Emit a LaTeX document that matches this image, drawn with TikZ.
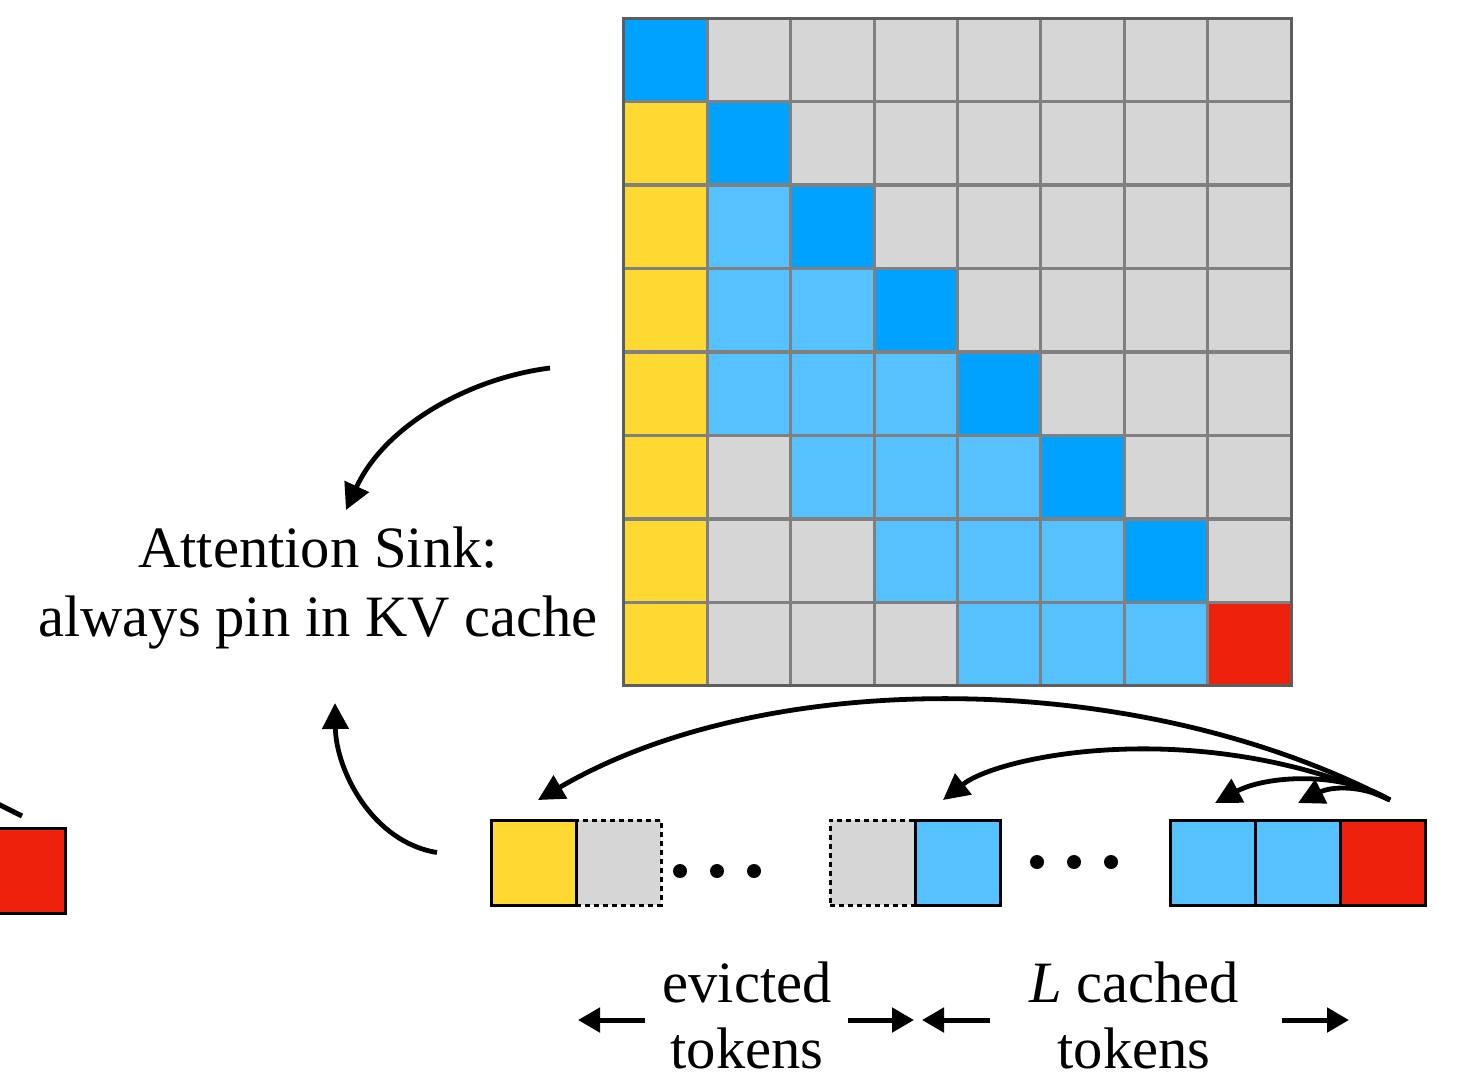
\documentclass[tikz,border=0pt]{standalone}
\usepackage{fontspec}
\setmainfont{Liberation Serif}
\usetikzlibrary{arrows.meta,calc}

% cell colours
\definecolor{cD}{HTML}{00A2FF}   % current token attending to itself
\definecolor{cL}{HTML}{56C1FF}   % window tokens
\definecolor{cY}{HTML}{FED932}   % attention sink
\definecolor{cG}{HTML}{D6D6D6}   % masked / evicted
\definecolor{cR}{HTML}{EE220C}   % newest token
\definecolor{gridG}{HTML}{808080}
\definecolor{edgeG}{HTML}{5E5E5E}

\tikzset{
  cell/.style={rectangle, draw=gridG, line width=1.5pt, minimum size=41.7pt,
    inner sep=0pt, outer sep=0pt},
  tok/.style={rectangle, draw=black, line width=1.5pt, minimum size=42.5pt,
    inner sep=0pt, outer sep=0pt},
  evtok/.style={tok, fill=cG, dash pattern=on 2.5pt off 2pt},
  bigarrow/.style={line width=2.4pt, -{Triangle[length=13pt,width=13pt]}},
  spanarrow/.style={line width=2.5pt, -{Triangle[length=11pt,width=12pt]}},
  lbl/.style={font=\fontsize{29.3}{34.5}\selectfont, inner sep=0pt, anchor=base},
  dot/.style={circle, fill=black, minimum size=7pt, inner sep=0pt}
}

\begin{document}
\begin{tikzpicture}[x=0.5pt, y=-0.5pt]
\useasboundingbox (0,0) rectangle (1460,1078);
\clip (0,0) rectangle (1460,1078);

% attention matrix, one row per entry
\foreach \line [count=\r from 0] in {
  {D,G,G,G,G,G,G,G},
  {Y,D,G,G,G,G,G,G},
  {Y,L,D,G,G,G,G,G},
  {Y,L,L,D,G,G,G,G},
  {Y,L,L,L,D,G,G,G},
  {Y,G,L,L,L,D,G,G},
  {Y,G,G,L,L,L,D,G},
  {Y,G,G,G,L,L,L,R}} {
  \foreach \c [count=\j from 0] in \line {
    \node[cell, fill=c\c] (m-\r-\j) at ({624+83.375*(\j+0.5)},{18+83.5*(\r+0.5)}) {};
  }
}
\draw[edgeG, line width=1.5pt] (m-0-0.north west) rectangle (m-7-7.south east);

% label for the sink column
\node[lbl] (sink1) at (318,567) {Attention Sink:};
\node[lbl] (sink2) at (318,636) {always pin in KV cache};

% token sequence
\node[tok, fill=cR] (prevR) at (22.5,870.5) {};
\node[tok, fill=cY] (t1) at (533.5,862.5) {};
\node[evtok] (t2) at (618.5,862.5) {};
\node[evtok] (t3) at (872.5,862.5) {};
\node[tok, fill=cL] (t4) at (957.5,862.5) {};
\node[tok, fill=cL] (t5) at (1212.5,862.5) {};
\node[tok, fill=cL] (t6) at (1297.5,862.5) {};
\node[tok, fill=cR] (t7) at (1382.5,862.5) {};
% redraw shared solid edges over the dashed ones
\draw[line width=1.5pt] (t1.north east) -- (t1.south east);
\draw[line width=1.5pt] (t4.north west) -- (t4.south west);

\foreach \x [count=\k] in {680,717,754} \node[dot] (da\k) at (\x,871) {};
\foreach \x [count=\k] in {1037,1074,1111} \node[dot] (db\k) at (\x,862) {};

% end of a connector from the previous step
\coordinate (prevFrom) at (-40,785);
\coordinate (prevTo) at (22,816);
\draw[line width=2.5pt] (prevFrom) -- (prevTo);

% arrows to the sink label
\coordinate (mFrom) at (550,368);
\coordinate (sinkTop) at (346,510);
\draw[bigarrow] (mFrom) .. controls (470,378) and (385,425) .. (sinkTop);
\coordinate (tFrom) at ($(t1.west)+(-54,-10)$);
\coordinate (sinkBot) at (335,703);
\draw[bigarrow] (tFrom) .. controls (372,842) and (336,770) .. (sinkBot);

% attention from the newest token to the cached ones
\coordinate (src) at ($(t7.north)+(7.5,-20)$);
\coordinate (toSink) at ($(t1.north)+(4.5,-20)$);
\coordinate (toWin) at ($(t4.north)+(-14.5,-20)$);
\coordinate (toT5) at ($(t5.north)+(2.5,-17)$);
\coordinate (toT6) at ($(t6.north)+(0.5,-17)$);
\draw[bigarrow] (src) .. controls (1135,667) and (765,667) .. (toSink);
\draw[bigarrow] (src) .. controls (1200,715) and (1000,755) .. (toWin);
\draw[bigarrow] (src) .. controls (1340,770) and (1265,776) .. (toT5);
\draw[bigarrow] (src) .. controls (1360,784) and (1330,787) .. (toT6);

% span labels
\node[lbl] (ev1) at (747,1002) {evicted};
\node[lbl] (ev2) at (747,1068) {tokens};
\node[lbl] (lc1) at (1134,1002) {\textit{L} cached};
\node[lbl] (lc2) at (1134,1068) {tokens};

\coordinate (evA) at (645,1020); \coordinate (evAt) at (578,1020);
\coordinate (evB) at (848,1020); \coordinate (evBt) at (914,1020);
\coordinate (lcA) at (990,1020); \coordinate (lcAt) at (922,1020);
\coordinate (lcB) at (1282,1020); \coordinate (lcBt) at (1349,1020);
\draw[spanarrow] (evA) -- (evAt);
\draw[spanarrow] (evB) -- (evBt);
\draw[spanarrow] (lcA) -- (lcAt);
\draw[spanarrow] (lcB) -- (lcBt);
\end{tikzpicture}
\end{document}
